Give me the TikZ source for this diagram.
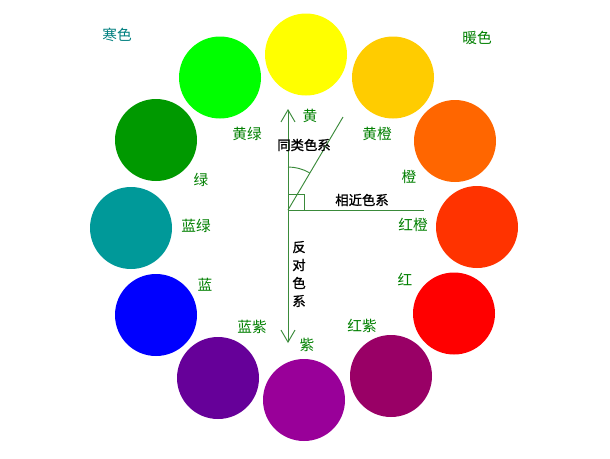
\documentclass[tikz,border=0pt]{standalone}
\usepackage{fontspec}
\newfontfamily\cjk{Noto Sans CJK SC}
\newfontfamily\cjkheavy[FakeBold=1.2]{Noto Sans CJK SC}
\usetikzlibrary{arrows.meta}
\definecolor{cYellow}{HTML}{FFFF00}
\definecolor{cYellowOrange}{HTML}{FFCC00}
\definecolor{cOrange}{HTML}{FF6600}
\definecolor{cRedOrange}{HTML}{FF3300}
\definecolor{cRed}{HTML}{FF0000}
\definecolor{cRedPurple}{HTML}{990066}
\definecolor{cPurple}{HTML}{990099}
\definecolor{cBluePurple}{HTML}{660099}
\definecolor{cBlue}{HTML}{0000FF}
\definecolor{cBlueGreen}{HTML}{009999}
\definecolor{cGreen}{HTML}{009900}
\definecolor{cYellowGreen}{HTML}{00FF00}
\definecolor{labgreen}{HTML}{008000}
\definecolor{labteal}{HTML}{008080}
\definecolor{linegreen}{HTML}{3A8A3A}
\tikzset{
  swatch/.style={circle, minimum size=61.5pt, inner sep=0pt, draw=none, fill=#1},
  clabel/.style={font=\cjk\fontsize{11pt}{12pt}\selectfont, text=labgreen, inner sep=0pt},
  blabel/.style={font=\cjkheavy\fontsize{10pt}{13.5pt}\selectfont, text=black, inner sep=0pt},
  guide/.style={draw=linegreen, line width=0.7pt},
  guidearrow/.style={guide, -{Straight Barb[length=9pt,width=10.5pt,line width=0.7pt]}}
}
\begin{document}
\begin{tikzpicture}[x=0.75pt,y=-0.75pt]
\useasboundingbox[fill=white] (0,0) rectangle (610,458);
% colour swatches
\node[swatch=cYellow]      (yellow)      at (306,54.5) {};
\node[swatch=cYellowOrange](yelloworange) at (393,77.5) {};
\node[swatch=cOrange]      (orange)      at (455,141) {};
\node[swatch=cRedOrange]   (redorange)   at (477,227) {};
\node[swatch=cRed]         (red)         at (454,313.5) {};
\node[swatch=cRedPurple]   (redpurple)   at (391,376) {};
\node[swatch=cPurple]      (purple)      at (304,400) {};
\node[swatch=cBluePurple]  (bluepurple)  at (218,378) {};
\node[swatch=cBlue]        (blue)        at (156,315) {};
\node[swatch=cBlueGreen]   (bluegreen)   at (131,228) {};
\node[swatch=cGreen]       (green)       at (156,140) {};
\node[swatch=cYellowGreen] (yellowgreen) at (220,77.5) {};
% colour labels
\node[clabel] (lyellow)      at (310,115.5) {黄};
\node[clabel] (lyellowgreen) at (247,134) {黄绿};
\node[clabel] (lyelloworange) at (377,134) {黄橙};
\node[clabel] (lorange)      at (409,177) {橙};
\node[clabel] (lredorange)   at (413,225) {红橙};
\node[clabel] (lred)         at (405,280) {红};
\node[clabel] (lredpurple)   at (362,326) {红紫};
\node[clabel] (lpurple)      at (307,345) {紫};
\node[clabel] (lbluepurple)  at (252,327) {蓝紫};
\node[clabel] (lblue)        at (205,285) {蓝};
\node[clabel] (lbluegreen)   at (196,226) {蓝绿};
\node[clabel] (lgreen)       at (201,180) {绿};
\node[clabel, text=labteal] (cold) at (117,35) {寒色};
\node[clabel] (warm) at (477,38) {暖色};
% guide lines
\coordinate (O) at (288,210);
\coordinate (up) at (288,109);
\coordinate (down) at (288,343);
\coordinate (right) at (424,210);
\coordinate (diag) at (343,117);
\coordinate (sqa) at (288,194);
\coordinate (sqb) at (304,194);
\coordinate (sqc) at (304,210);
\coordinate (arcstart) at (288,167);
\draw[guidearrow] (O) -- (up);
\draw[guidearrow] (O) -- (down);
\draw[guide] (O) -- (right);
\draw[guide] (O) -- (diag);
\draw[guide] (sqa) -- (sqb) -- (sqc);
\draw[guide] (arcstart) arc[start angle=90, end angle=60, radius=32.25pt];
% relation labels
\node[blabel] (similar) at (304,145) {同类色系};
\node[blabel] (near) at (362,200) {相近色系};
\node[blabel, align=center] (opposite) at (299,274) {反\\对\\色\\系};
\end{tikzpicture}
\end{document}
